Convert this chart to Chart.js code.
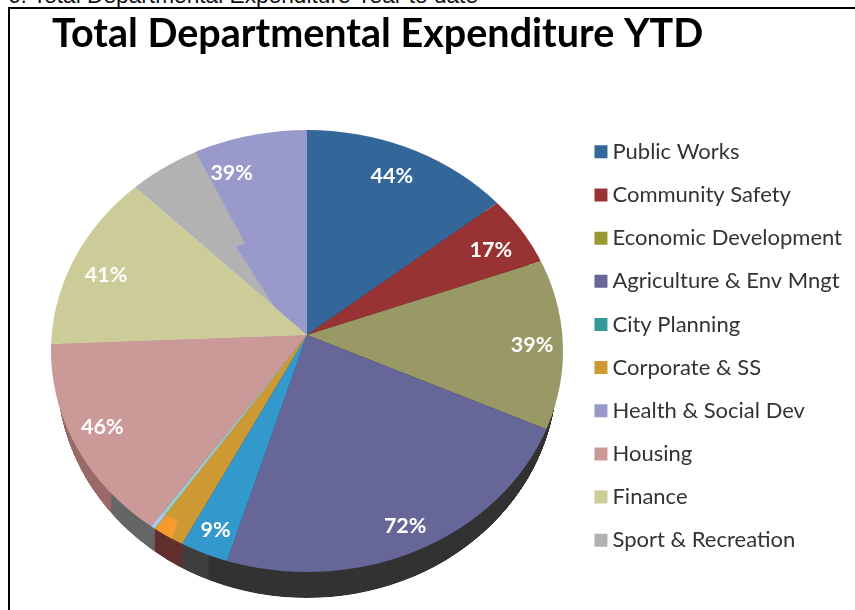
<!DOCTYPE html>
<html><head><meta charset="utf-8">
<style>
html,body{margin:0;padding:0;background:#fff;overflow:hidden}
#cap{position:absolute;left:8px;top:-18px;font:22.7px "Liberation Sans",Arial,sans-serif;color:#111;white-space:nowrap}
#frame{position:absolute;left:7.5px;top:7px;width:855px;height:620px;border-left:2px solid #000;border-top:2px solid #000}
#c{position:absolute;left:0;top:0}
</style>
<script src="https://cdn.jsdelivr.net/npm/chart.js@4"></script>
</head><body>
<div id="cap">6. Total Departmental Expenditure Year to date</div>
<canvas id="c" width="855" height="610"></canvas>
<div id="frame"></div>
<script>
const titleText = 'Total Departmental Expenditure YTD';
const categories = ['Public Works','Community Safety','Economic Development','Agriculture & Env Mngt','City Planning','Corporate & SS','Other','Housing','Finance','Sport & Recreation','Health & Social Dev'];
const shares = [51.2,18.7,44.6,82.5,10.3,6.9,0.9,52.6,47.2,17.6,27.5];
const faceColors = ['#336699','#993333','#999966','#666699','#3399CC','#CC9933','#99CCCC','#CC9999','#CCCC99','#B2B2B2','#9999CC'];
const pctLabels = ['44%','17%','39%','72%','9%','','','46%','41%','','39%'];
const labelRadius = [.796,.817,.88,.941,.947,0,0,.90,.832,0,.794];
const labelAngleShift = [-1,1,.5,.2,0,0,0,1.3,-1.9,0,-8];
const legendOrder = ['Public Works','Community Safety','Economic Development','Agriculture & Env Mngt','City Planning','Corporate & SS','Health & Social Dev','Housing','Finance','Sport & Recreation'];
const legendColors = ['#336699','#993333','#999933','#666699','#339999','#CC9933','#9999CC','#CC9999','#CCCC99','#B2B2B2'];
const sideShares = [201.2,6.1,6.9,12.8,40.7,92.3];
const sideColors = ['#333333','#3F3F3F','#63302F','#666666','#9A6A68','rgba(0,0,0,0)'];

// rendering artefacts of the original 3D pie, as [radius fraction, degrees] around the apex
const artefacts = [
  {color:'#9999CC', pts:[[0,0],[.178,314.9],[.485,325.2],[.481,329.8],[1,332.5],[.9,340]]},
  {color:'#F79A30', pts:[[1.1,213.9],[.981,213.9],[.981,210.9],[1.1,209.3]]},
  {color:'#A8C8E8', pts:[[1.1,215.1],[.985,215.1],[.985,214.2],[1.1,214.2]]}
];
// projected pie geometry: apex, sector scale, rim ellipses
const PIE = {x:307,y:335,rx:256,ry:221,rimY:351,depth:26,wallRx:250,wallRy:226,wallY:372};

function drawArc(el,color,R,ctx){
  const p = Object.create(el);
  p.innerRadius = 0; p.outerRadius = R;
  p.options = Object.assign({},el.options,{backgroundColor:color,borderWidth:0});
  p.draw(ctx);
}
const tiltPlugin = {
  id:'tilt',
  beforeDatasetsDraw(chart){
    const ctx = chart.ctx;
    const face = chart.getDatasetMeta(0).data, side = chart.getDatasetMeta(1).data;
    const R = Math.max(...face.map(e=>e.outerRadius),...side.map(e=>e.outerRadius));
    const cx = face[0].x, cy = face[0].y;
    const GROW = 1.4; // sectors overshoot the rim, the rim ellipse clips them
    const place = (ay)=>{ctx.translate(PIE.x,ay);ctx.scale(PIE.rx/R,PIE.ry/R);ctx.translate(-cx,-cy);};
    const rim = (y,rx,ry)=>{ctx.beginPath();ctx.ellipse(PIE.x,y,rx,ry,0,0,Math.PI*2);ctx.clip();};
    // wall: the rim extruded downwards, trimmed by the wall ellipse
    ctx.save(); rim(PIE.wallY,PIE.wallRx,PIE.wallRy);
    for(let d=PIE.depth;d>=0;d--){
      ctx.save(); rim(PIE.rimY+d,PIE.rx,PIE.ry); place(PIE.y+d);
      side.forEach((e,i)=>drawArc(e,sideColors[i],R*GROW,ctx));
      ctx.restore();
    }
    ctx.restore();
    // top face
    ctx.save(); rim(PIE.rimY,PIE.rx,PIE.ry); place(PIE.y);
    face.forEach((e,i)=>drawArc(e,faceColors[i],R*GROW,ctx));
    artefacts.forEach(g=>{
      ctx.beginPath();
      g.pts.forEach(([r,d],k)=>{
        const t=d*Math.PI/180, X=cx+R*r*Math.sin(t), Y=cy-R*r*Math.cos(t);
        k?ctx.lineTo(X,Y):ctx.moveTo(X,Y);
      });
      ctx.closePath(); ctx.fillStyle=g.color; ctx.fill();
    });
    ctx.restore();
    // labels
    ctx.save();
    ctx.font='bold 21.5px Lato, "Open Sans", sans-serif';
    ctx.fillStyle='#fff'; ctx.textAlign='center'; ctx.textBaseline='middle';
    face.forEach((e,i)=>{
      if(!pctLabels[i]) return;
      const mid=(e.startAngle+e.endAngle)/2+Math.PI/2+labelAngleShift[i]*Math.PI/180;
      const ux=Math.sin(mid)*labelRadius[i], uy=-Math.cos(mid)*labelRadius[i];
      ctx.fillText(pctLabels[i],PIE.x+ux*PIE.rx,PIE.y+uy*PIE.ry+1);
    });
    ctx.restore();
    return false;
  }
};

new Chart(document.getElementById('c'),{
  type:'doughnut',
  data:{labels:categories,datasets:[
    {data:shares,backgroundColor:faceColors,borderWidth:0},
    {data:sideShares,backgroundColor:sideColors,borderWidth:0}
  ]},
  plugins:[tiltPlugin],
  options:{
    responsive:false,animation:false,events:[],cutout:0,
    layout:{padding:{left:52,right:3,top:0,bottom:0}},
    plugins:{
      tooltip:{enabled:false},
      title:{display:true,text:titleText,align:'start',color:'#000',
        font:{family:'Lato, "Open Sans", sans-serif',size:39.5,weight:'bold'},padding:{top:11,bottom:23.6}},
      legend:{position:'right',align:'center',fullSize:false,
        labels:{
          font:{family:'Lato, "Open Sans", sans-serif',size:22},color:'#333',
          boxWidth:1,boxHeight:1,padding:21.15,
          generateLabels(){return legendOrder.map((t,i)=>({text:t,fillStyle:legendColors[i],strokeStyle:legendColors[i],lineWidth:12,hidden:false,index:i,fontColor:'#333'}));}
        }}
    }
  }
});
</script>
</body></html>
